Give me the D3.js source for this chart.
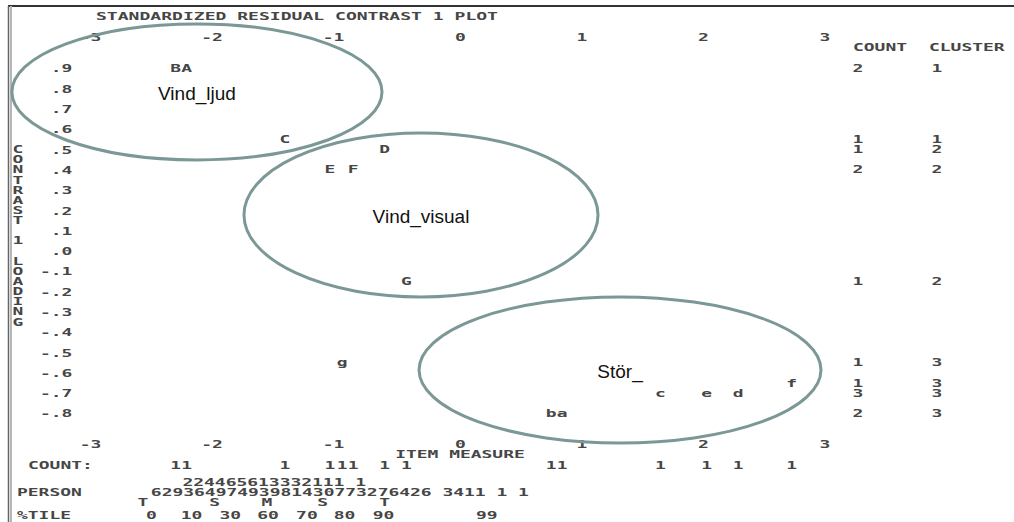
<!DOCTYPE html>
<html>
<head>
<meta charset="utf-8">
<script src="https://cdn.jsdelivr.net/npm/d3@7"></script>
<style>
  body { margin: 0; background: #fff; }
  svg { display: block; }
  .mono { font-family: "DejaVu Sans Mono", monospace; font-size: 11px; font-weight: bold; fill: #464646; }
  .tag { font-family: "Liberation Sans", Arial, sans-serif; font-size: 19px; fill: #111; }
</style>
</head>
<body>
<div id="chart"></div>
<script>
"use strict";

// items: label, item measure (logits), contrast 1 loading, cluster
const itemLabels   = ["B", "A", "C", "D", "E", "F", "G", "g", "f", "c", "e", "d", "b", "a"];
const itemMeasures = [-2.34, -2.25, -1.44, -0.62, -1.07, -0.88, -0.44, -0.97, 2.73, 1.65, 2.03, 2.29, 0.75, 0.84];
const itemLoadings = [0.9, 0.9, 0.55, 0.5, 0.4, 0.4, -0.15, -0.55, -0.65, -0.7, -0.7, -0.7, -0.8, -0.8];
const itemClusters = [1, 1, 1, 2, 2, 2, 2, 3, 3, 3, 3, 3, 3, 3];

const measureTicks = [-3, -2, -1, 0, 1, 2, 3];
const loadingTicks = [0.9, 0.8, 0.7, 0.6, 0.5, 0.4, 0.3, 0.2, 0.1, 0, -0.1, -0.2, -0.3, -0.4, -0.5, -0.6, -0.7, -0.8];

// person distribution printed under the item measure axis
const personTens = "224465613332111 1";
const personUnits = "62936497493981430773276426 3411 1 1";
const personTensStart = -2.24;
const personUnitsStart = -2.50;
const personMarks = ["T", "S", "M", "S", "T"];
const personMarkAt = [-2.61, -2.02, -1.59, -1.13, -0.62];
const tileLabels = ["0", "10", "30", "60", "70", "80", "90", "99"];
const tileAt = [-2.54, -2.21, -1.89, -1.58, -1.26, -0.95, -0.63, 0.22];

// hand-drawn cluster rings (centre and half-width in data units)
const ringNames = ["Vind_ljud", "Vind_visual", "Stör_"];
const ringMeasure = [-2.165, -0.321, 1.317];
const ringLoading = [0.782, 0.176, -0.588];
const ringHalfMeasure = [1.523, 1.457, 1.654];
const ringHalfLoading = [0.335, 0.404, 0.36];

const W = 1014, H = 522;

const svg = d3.select("#chart").append("svg")
  .attr("width", W)
  .attr("height", H);

const x = d3.scaleLinear().domain([-3, 3]).range([95.5, 824.5]);
const y = d3.scaleLinear().domain([0.9, -0.8]).range([68, 413]);
const pitch = 10.8;

// monospaced text stretched to the printout's wide character cell
function mono(g, str, px, py, anchor) {
  const w = str.length * pitch;
  const x0 = anchor === "middle" ? px - w / 2 : anchor === "end" ? px - w : px;
  return g.append("text")
    .attr("class", "mono")
    .attr("x", x0)
    .attr("y", py)
    .attr("dy", "0.36em")
    .attr("textLength", w)
    .attr("lengthAdjust", "spacingAndGlyphs")
    .text(str);
}

// restyle axis labels so the last character sits on the tick
function styleAxis(g) {
  g.attr("font-family", null).attr("font-size", null);
  g.select(".domain").remove();
  g.selectAll("text").each(function () {
    const t = d3.select(this);
    const n = t.text().length;
    t.attr("class", "mono").attr("fill", null)
      .attr("text-anchor", "start")
      .attr("x", -(n - 0.5) * pitch)
      .attr("y", 0)
      .attr("dy", "0.36em")
      .attr("textLength", n * pitch)
      .attr("lengthAdjust", "spacingAndGlyphs");
  });
}

// window frame
svg.append("line").attr("x1", 8).attr("x2", W).attr("y1", 6).attr("y2", 6)
  .attr("stroke", "#333").attr("stroke-width", 2);
svg.append("line").attr("x1", 8.5).attr("x2", 8.5).attr("y1", 6).attr("y2", H)
  .attr("stroke", "#666").attr("stroke-width", 1.5);
svg.append("line").attr("x1", 11).attr("x2", 11).attr("y1", 6).attr("y2", H)
  .attr("stroke", "#b4b8bc").attr("stroke-width", 2);

mono(svg, "STANDARDIZED RESIDUAL CONTRAST 1 PLOT", 96, 16, "start")
  .attr("textLength", 402);

svg.append("g").attr("transform", "translate(0,37)")
  .call(d3.axisTop(x).tickValues(measureTicks).tickSize(0).tickPadding(0).tickFormat(d => String(d)))
  .call(styleAxis);

svg.append("g").attr("transform", "translate(0,444)")
  .call(d3.axisBottom(x).tickValues(measureTicks).tickSize(0).tickPadding(0).tickFormat(d => String(d)))
  .call(styleAxis);

svg.append("g").attr("transform", "translate(67,0)")
  .call(d3.axisLeft(y).tickValues(loadingTicks).tickSize(0).tickPadding(0)
    .tickFormat(v => (v < 0 ? "-" : "") + "." + Math.round(Math.abs(v) * 10)))
  .call(styleAxis);

// vertical axis title, one character per half row
const yTitle = "CONTRAST 1 LOADING";
yTitle.split("").forEach((ch, i) => {
  if (ch !== " ") mono(svg, ch, 18, y(0.5 - i * 0.05), "middle");
});

mono(svg, "ITEM MEASURE", x(0), 454, "middle");

// item letters
itemLabels.forEach((lab, i) => {
  mono(svg, lab, x(itemMeasures[i]), y(itemLoadings[i]), "middle");
});

// COUNT / CLUSTER column, one entry per loading row
mono(svg, "COUNT", 853, 47, "start");
mono(svg, "CLUSTER", 929, 47, "start");
const rows = d3.rollups(d3.range(itemLabels.length),
  v => ({ n: v.length, c: itemClusters[v[0]] }), i => itemLoadings[i]);
rows.forEach(([load, r]) => {
  mono(svg, String(r.n), 858, y(load), "middle");
  mono(svg, String(r.c), 937, y(load), "middle");
});

// COUNT: row under the measure axis
mono(svg, "COUNT:", 28, 465, "start");
const cols = d3.rollups(d3.range(itemLabels.length), v => v.length, i => itemMeasures[i]);
cols.forEach(([m, n]) => mono(svg, String(n), x(m), 465, "middle"));

// person distribution
mono(svg, personTens, x(personTensStart) - pitch / 2, 482, "start");
mono(svg, "PERSON", 17, 492, "start");
mono(svg, personUnits, x(personUnitsStart) - pitch / 2, 492, "start");
personMarks.forEach((s, i) => mono(svg, s, x(personMarkAt[i]), 502, "middle"));
mono(svg, "%TILE", 17, 515, "start");
tileLabels.forEach((s, i) => mono(svg, s, x(tileAt[i]), 515, "middle"));

// cluster rings and their names
ringNames.forEach((name, i) => {
  const cx = x(ringMeasure[i]), cy = y(ringLoading[i]);
  svg.append("ellipse")
    .attr("cx", cx)
    .attr("cy", cy)
    .attr("rx", x(ringHalfMeasure[i]) - x(0))
    .attr("ry", y(0) - y(ringHalfLoading[i]))
    .attr("fill", "none")
    .attr("stroke", "#7b9897")
    .attr("stroke-width", 3);
  svg.append("text")
    .attr("class", "tag")
    .attr("x", cx)
    .attr("y", cy + 8)
    .attr("text-anchor", "middle")
    .text(name);
});
</script>
</body>
</html>
